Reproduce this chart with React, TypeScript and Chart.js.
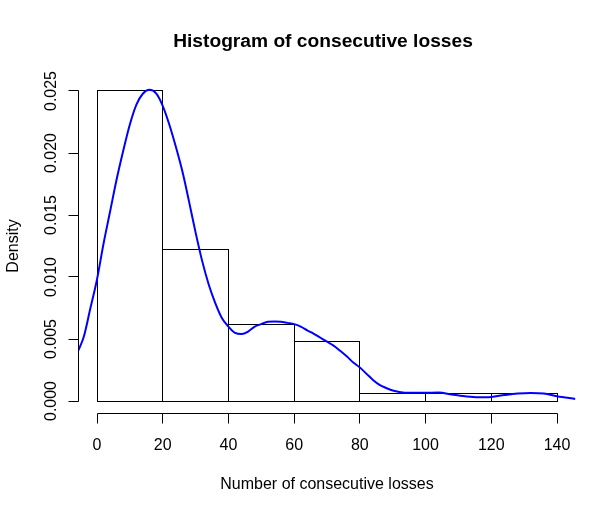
import React, { useEffect, useRef } from "react";
import { Chart, registerables } from "chart.js";

Chart.register(...registerables);

const TITLE = "Histogram of consecutive losses";
const X_LABEL = "Number of consecutive losses";
const Y_LABEL = "Density";

const binEdges = [0, 20, 40, 60, 80, 100, 120, 140];
const binDensity = [0.025, 0.01218, 0.00613, 0.0048, 0.000565, 0.000565, 0.000565];

const xTicks = [0, 20, 40, 60, 80, 100, 120, 140];
const xTickLabels = ["0", "20", "40", "60", "80", "100", "120", "140"];
const yTicks = [0, 0.005, 0.01, 0.015, 0.02, 0.025];
const yTickLabels = ["0.000", "0.005", "0.010", "0.015", "0.020", "0.025"];

const xMin = -5.6;
const xMax = 145.6;
const yMin = -0.001;
const yMax = 0.026;

const kdeX = [
  -5.6, -4, -2, 0, 2, 4, 6, 8, 10, 12, 14, 16, 18, 20, 22, 24, 26, 28, 30, 32, 34, 36, 38, 40, 42,
  44, 46, 48, 50, 52, 54, 56, 58, 60, 62, 64, 66, 68, 70, 72, 74, 76, 78, 80, 82, 84, 86, 88, 90,
  92, 95, 100, 104, 108, 112, 116, 120, 124, 128, 132, 136, 140, 145.6,
];
const kdeY = [
  0.0041, 0.0052, 0.0075, 0.0098, 0.0127, 0.0153, 0.0179, 0.0202, 0.0223, 0.0239, 0.0248, 0.0251,
  0.0248, 0.0238, 0.0223, 0.0205, 0.0185, 0.0161, 0.0136, 0.0113, 0.0094, 0.0079, 0.0067, 0.006,
  0.0055, 0.0054, 0.0056, 0.006, 0.0062, 0.0064, 0.00642, 0.0064, 0.0063, 0.0062, 0.006, 0.0057,
  0.00542, 0.0051, 0.00478, 0.00447, 0.00405, 0.0036, 0.0031, 0.0027, 0.0022, 0.0017, 0.0013, 0.00105,
  0.00085, 0.00073, 0.00066, 0.00067, 0.00068, 0.00052, 0.00038, 0.0003, 0.00033, 0.00048, 0.0006,
  0.00065, 0.0006, 0.00038, 0.00017,
];

const FONT = '"Liberation Sans", Arial, sans-serif';
const crisp = (v: number) => Math.floor(v) + 0.5;

const rAxesPlugin = {
  id: "rAxes",
  afterDatasetDraw(chart: any, args: any) {
    if (args.meta.type !== "bar") return;
    const { ctx } = chart;
    ctx.save();
    ctx.strokeStyle = "#000";
    ctx.lineWidth = 1;
    args.meta.data.forEach((el: any) => {
      const { x, y, base, width } = el.getProps(["x", "y", "base", "width"], true);
      const l = crisp(x - width / 2);
      const r = crisp(x + width / 2);
      const t = crisp(y);
      const b = crisp(base);
      ctx.strokeRect(l, t, r - l, b - t);
    });
    ctx.restore();
  },
  afterDraw(chart: any) {
    const { ctx, chartArea, scales } = chart;
    const xs = scales.x;
    const ys = scales.y;
    ctx.save();
    ctx.strokeStyle = "#000";
    ctx.fillStyle = "#000";
    ctx.lineWidth = 1;

    const cx = (chartArea.left + chartArea.right) / 2;
    const cy = (chartArea.top + chartArea.bottom) / 2;

    // title
    ctx.font = `bold 19.2px ${FONT}`;
    ctx.textAlign = "center";
    ctx.textBaseline = "alphabetic";
    ctx.fillText(TITLE, cx - 4, 47);

    // x axis
    const ay = crisp(chartArea.bottom);
    ctx.beginPath();
    ctx.moveTo(crisp(xs.getPixelForValue(xTicks[0])), ay);
    ctx.lineTo(crisp(xs.getPixelForValue(xTicks[xTicks.length - 1])), ay);
    xTicks.forEach((v) => {
      const px = crisp(xs.getPixelForValue(v));
      ctx.moveTo(px, ay);
      ctx.lineTo(px, ay + 10);
    });
    ctx.stroke();
    ctx.font = `16px ${FONT}`;
    xTicks.forEach((v, i) => {
      ctx.fillText(xTickLabels[i], xs.getPixelForValue(v), 449.5);
    });
    ctx.fillText(X_LABEL, cx, 488.5);

    // y axis
    const ax = crisp(chartArea.left);
    ctx.beginPath();
    ctx.moveTo(ax, crisp(ys.getPixelForValue(yTicks[0])));
    ctx.lineTo(ax, crisp(ys.getPixelForValue(yTicks[yTicks.length - 1])));
    yTicks.forEach((v) => {
      const py = crisp(ys.getPixelForValue(v));
      ctx.moveTo(ax, py);
      ctx.lineTo(ax - 10, py);
    });
    ctx.stroke();
    yTicks.forEach((v, i) => {
      ctx.save();
      ctx.translate(56, ys.getPixelForValue(v));
      ctx.rotate(-Math.PI / 2);
      ctx.fillText(yTickLabels[i], 0, 0);
      ctx.restore();
    });
    ctx.save();
    ctx.translate(18, cy);
    ctx.rotate(-Math.PI / 2);
    ctx.fillText(Y_LABEL, 0, 0);
    ctx.restore();

    ctx.restore();
  },
};

export default function App() {
  const canvasRef = useRef<HTMLCanvasElement | null>(null);

  useEffect(() => {
    const canvas = canvasRef.current;
    if (!canvas) return;
    const chart = new Chart(canvas, {
      type: "bar",
      data: {
        datasets: [
          {
            type: "line",
            label: "density",
            data: kdeX.map((x, i) => ({ x, y: kdeY[i] })),
            borderColor: "#0000FF",
            borderWidth: 2,
            pointRadius: 0,
            cubicInterpolationMode: "monotone",
            fill: false,
            order: 0,
          } as any,
          {
            type: "bar",
            label: "histogram",
            data: binDensity.map((d, i) => ({ x: (binEdges[i] + binEdges[i + 1]) / 2, y: d })),
            backgroundColor: "rgba(0,0,0,0)",
            borderColor: "rgba(0,0,0,0)",
            borderWidth: 0,
            inflateAmount: 0,
            barPercentage: 1,
            categoryPercentage: 1,
            order: 1,
          } as any,
        ],
      },
      options: {
        responsive: false,
        animation: false,
        devicePixelRatio: 1,
        layout: { padding: { left: 78.6, right: 40.6, top: 78.6, bottom: 98.6 } },
        plugins: { legend: { display: false }, tooltip: { enabled: false }, title: { display: false } },
        scales: {
          x: {
            type: "linear",
            min: xMin,
            max: xMax,
            offset: false,
            display: false,
            afterBuildTicks: (s: any) => {
              s.ticks = xTicks.map((v) => ({ value: v }));
            },
          },
          y: { type: "linear", min: yMin, max: yMax, display: false },
        },
      } as any,
      plugins: [rAxesPlugin],
    });
    return () => chart.destroy();
  }, []);

  return (
    <div style={{ position: "absolute", left: 0, top: 0, width: 616, height: 512, background: "#fff" }}>
      <canvas ref={canvasRef} width={616} height={512} />
    </div>
  );
}
